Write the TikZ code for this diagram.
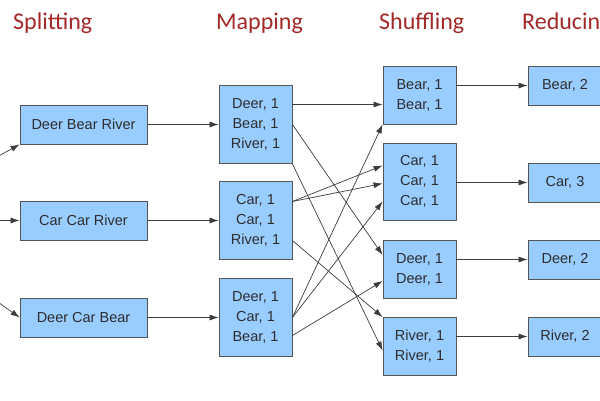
\documentclass[tikz,border=0pt]{standalone}
\usepackage{fontspec}
\setmainfont{Liberation Sans}
\newfontfamily\titlefont{Carlito}
\usetikzlibrary{arrows.meta}

\definecolor{boxblue}{RGB}{153,204,255}
\definecolor{boxline}{RGB}{85,85,85}
\definecolor{titlered}{RGB}{163,40,40}
\definecolor{textgray}{RGB}{45,45,45}
\definecolor{linegray}{RGB}{60,60,60}

\tikzset{
    stagetitle/.style={anchor=base west, inner sep=0pt, text=titlered, font=\titlefont\fontsize{24}{28}\selectfont},
    wordbox/.style={draw=boxline, fill=boxblue, line width=0.8pt, inner sep=0pt, align=center, text=textgray, font=\fontsize{14.5}{20}\selectfont},
    splitbox/.style={wordbox, minimum width=127pt, minimum height=39pt},
    mapbox/.style={wordbox, minimum width=73pt, minimum height=78pt},
    shufbox/.style={wordbox, minimum width=73pt, minimum height=58pt},
    redbox/.style={wordbox, minimum width=74pt, minimum height=39pt},
    link/.style={draw=linegray, line width=0.7pt, -{Latex[length=9pt,width=6pt]}}
}

\begin{document}
\begin{tikzpicture}[x=1pt,y=-1pt]
        
        \useasboundingbox (0,0) rectangle (600,400);
        \clip (0,0) rectangle (600,400);
        
        \node[stagetitle] (tsplit) at (13,29) {Splitting};
        \node[stagetitle] (tmap) at (216,29) {Mapping};
        \node[stagetitle] (tshuf) at (379,29) {Shuffling};
        \node[stagetitle] (tred) at (522,29) {Reducing};
        
        \coordinate (input) at (-117,220);
        
        \node[splitbox] (dbr) at (83.5,124.5) {Deer Bear River};
        \node[splitbox] (ccr) at (83.5,220.5) {Car Car River};
        \node[splitbox] (dcb) at (83.5,317.5) {Deer Car Bear};
        
        \node[mapbox] (m1) at (255.5,124.5) {Deer, 1\\Bear, 1\\River, 1};
        \node[mapbox] (m2) at (255.5,220.5) {Car, 1\\Car, 1\\River, 1};
        \node[mapbox] (m3) at (255.5,317.5) {Deer, 1\\Car, 1\\Bear, 1};
        
        \node[shufbox] (sbear) at (419.5,95) {Bear, 1\\Bear, 1};
        \node[shufbox, minimum height=77pt] (scar) at (419.5,181.5) {Car, 1\\Car, 1\\Car, 1};
        \node[shufbox] (sdeer) at (419.5,269) {Deer, 1\\Deer, 1};
        \node[shufbox] (sriver) at (419.5,346.5) {River, 1\\River, 1};
        
        \node[redbox] (rbear) at (565,85.5) {Bear, 2};
        \node[redbox] (rcar) at (565,182.5) {Car, 3};
        \node[redbox] (rdeer) at (565,259.5) {Deer, 2};
        \node[redbox] (rriver) at (565,336.5) {River, 2};
        
        \draw[link] (input) -- (dbr.south west);
        \draw[link] (input) -- (ccr.west);
        \draw[link] (input) -- (dcb.west);
        
        \draw[link] (dbr.east) -- (m1.west);
        \draw[link] (ccr.east) -- (m2.west);
        \draw[link] (dcb.east) -- (m3.west);
        
        \draw[link] ([yshift=20pt]m1.east) -- ([yshift=20pt]m1.east -| sbear.west);
        \draw[link] (m1.east) -- ([yshift=14pt]sdeer.west);
        \draw[link] (m1.south east) -- ([yshift=-4pt]sriver.west);
        \draw[link] ([yshift=19pt]m2.east) -- ([yshift=16pt]scar.west);
        \draw[link] ([yshift=19pt]m2.east) -- ([yshift=-2pt]scar.west);
        \draw[link] ([yshift=-20pt]m2.east) -- (sriver.north west);
        \draw[link] (m3.east) -- (sbear.south west);
        \draw[link] (m3.east) -- ([yshift=-20pt]scar.west);
        \draw[link] ([yshift=-18pt]m3.east) -- ([yshift=-12pt]sdeer.west);
        
        \draw[link] (sbear.east |- rbear) -- (rbear.west);
        \draw[link] (scar.east |- rcar) -- (rcar.west);
        \draw[link] (sdeer.east |- rdeer) -- (rdeer.west);
        \draw[link] (sriver.east |- rriver) -- (rriver.west);
        
\end{tikzpicture}
\end{document}
